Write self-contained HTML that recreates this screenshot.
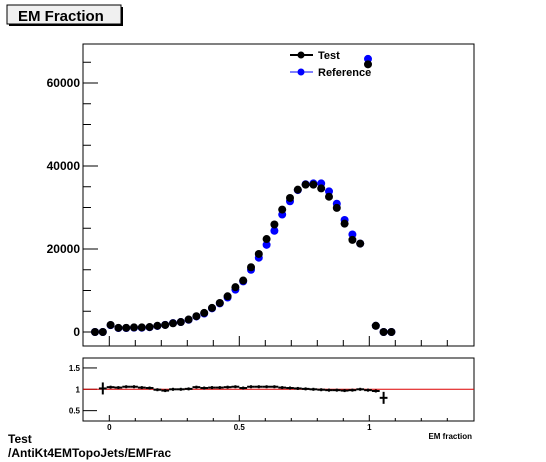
<!DOCTYPE html>
<html><head><meta charset="utf-8"><style>
body{margin:0;background:#fff;width:546px;height:462px;overflow:hidden;font-family:"Liberation Sans",Arial,sans-serif;}
svg{display:block}
text{font-family:"Liberation Sans",Arial,sans-serif;font-weight:bold;}
</style></head><body>
<svg id="c" width="546" height="462">
<g>
<rect x="9" y="7" width="114" height="19" fill="#000"/>
<rect x="7" y="5" width="114" height="19" fill="#f0f0f0" stroke="#000" stroke-width="1"/>
<text x="18" y="21" font-size="15">EM Fraction</text>
</g>
<rect x="83" y="44" width="391" height="302" fill="none" stroke="#000"/>
<rect x="83" y="358" width="391" height="63" fill="none" stroke="#000"/>
<g id="main"></g><g id="ratio"></g>
<g>
<line x1="290" y1="55" x2="313" y2="55" stroke="#000" stroke-width="2"/><circle cx="301" cy="55" r="3.5" fill="#000"/>
<text x="318" y="59" font-size="11">Test</text>
<line x1="290" y1="72" x2="313" y2="72" stroke="#00f" stroke-width="1"/><circle cx="301" cy="72" r="3.5" fill="#00f"/>
<text x="318" y="76" font-size="11">Reference</text>
</g>
<text x="472" y="439" font-size="8" text-anchor="end">EM fraction</text>
<text x="8" y="443" font-size="12">Test</text>
<text x="8" y="457" font-size="12">/AntiKt4EMTopoJets/EMFrac</text>
</svg>
<script>
const binCenters=[-0.055,-0.025,0.005,0.035,0.065,0.095,0.125,0.155,0.185,0.215,0.245,0.275,0.305,0.335,0.365,0.395,0.425,0.455,0.485,0.515,0.545,0.575,0.605,0.635,0.665,0.695,0.725,0.755,0.785,0.815,0.845,0.875,0.905,0.935,0.965,0.995,1.025,1.055,1.085];
const testValues=[0,0,1700,1000,1000,1100,1100,1200,1500,1700,2100,2400,3000,3800,4600,5800,7000,8600,10800,12400,15600,18800,22400,25900,29500,32300,34300,35500,35500,34600,32600,29900,26100,22200,21300,64500,1500,0,0];
const refValues=[0,0,1650,950,950,1050,1030,1150,1450,1720,2150,2400,2950,3750,4450,5700,6900,8300,10200,12200,15000,17900,21000,24400,28300,31500,34200,35600,35800,35800,33900,30900,27000,23500,21300,65800,1500,0,0];
const ratioCenters=[-0.025,0.005,0.035,0.065,0.095,0.125,0.155,0.185,0.215,0.245,0.275,0.305,0.335,0.365,0.395,0.425,0.455,0.485,0.515,0.545,0.575,0.605,0.635,0.665,0.695,0.725,0.755,0.785,0.815,0.845,0.875,0.905,0.935,0.965,0.995,1.025,1.055];
const ratioValues=[1.02,1.05,1.04,1.06,1.06,1.04,1.03,0.99,0.97,1.0,1.0,1.01,1.05,1.03,1.04,1.04,1.05,1.06,1.03,1.06,1.06,1.06,1.06,1.04,1.03,1.02,1.01,1.0,0.99,0.98,0.98,0.97,0.98,1.0,0.98,0.96,0.8];
const yTicksMain=[0,20000,40000,60000];
const yTickLabelsMain=["0","20000","40000","60000"];
const yTicksRatio=[0.5,1,1.5];
const yTickLabelsRatio=["0.5","1","1.5"];
const xTicks=[0,0.5,1];
const xTickLabels=["0","0.5","1"];
const NS="http://www.w3.org/2000/svg";
const X=v=>109.3+v*260;
const Y=v=>332-v*0.00415;
const R=v=>389.3-(v-1)*42.7;
function mk(p,t,a){const e=document.createElementNS(NS,t);for(const k in a)e.setAttribute(k,a[k]);p.appendChild(e);return e;}
const m=document.getElementById('main'),r=document.getElementById('ratio');
for(let v=0;v<=65000;v+=5000){const maj=v%20000===0;const t=mk(m,'line',{x1:83,x2:83+(maj?15:8),y1:Y(v),y2:Y(v),stroke:'#000'});

}
yTicksMain.forEach((v,i)=>{const t=mk(m,'text',{x:80,y:Y(v)+4,'font-size':12,'text-anchor':'end'});t.textContent=yTickLabelsMain[i];

});
for(let k=-1;k<=14;k++){const v=k/10;const xx=X(v);if(xx<84||xx>473)continue;const maj=k%5===0;
const t=mk(m,'line',{x1:xx,x2:xx,y1:346,y2:346-(maj?10:6),stroke:'#000'});


const t2=mk(r,'line',{x1:xx,x2:xx,y1:421,y2:421-(maj?6:3),stroke:'#000'});

}
xTicks.forEach((v,i)=>{const t=mk(r,'text',{x:X(v),y:430,'font-size':8,'text-anchor':'middle'});t.textContent=xTickLabels[i];

});
yTicksRatio.forEach((v,i)=>{const t=mk(r,'line',{x1:83,x2:97,y1:R(v),y2:R(v),stroke:'#000'});


const l=mk(r,'text',{x:80,y:R(v)+3,'font-size':8,'text-anchor':'end'});l.textContent=yTickLabelsRatio[i];

});
binCenters.forEach((c,i)=>{const p=mk(m,'circle',{cx:X(c),cy:Y(refValues[i]),r:4,fill:'#00f'});

});
binCenters.forEach((c,i)=>{const p=mk(m,'circle',{cx:X(c),cy:Y(testValues[i]),r:4,fill:'#000'});

});
const ref=mk(r,'line',{x1:83,x2:474,y1:R(1),y2:R(1),stroke:'#d00','stroke-width':1});


ratioCenters.forEach((c,i)=>{const y=R(ratioValues[i]);const g=mk(r,'g',{});


mk(g,'line',{x1:X(c-0.015),x2:X(c+0.015),y1:y,y2:y,stroke:'#000','stroke-width':2});
const e=(i===0||i===ratioCenters.length-1)?6:1.5;
mk(g,'line',{x1:X(c),x2:X(c),y1:y-e,y2:y+e,stroke:'#000','stroke-width':2});});
</script>
</body></html>
